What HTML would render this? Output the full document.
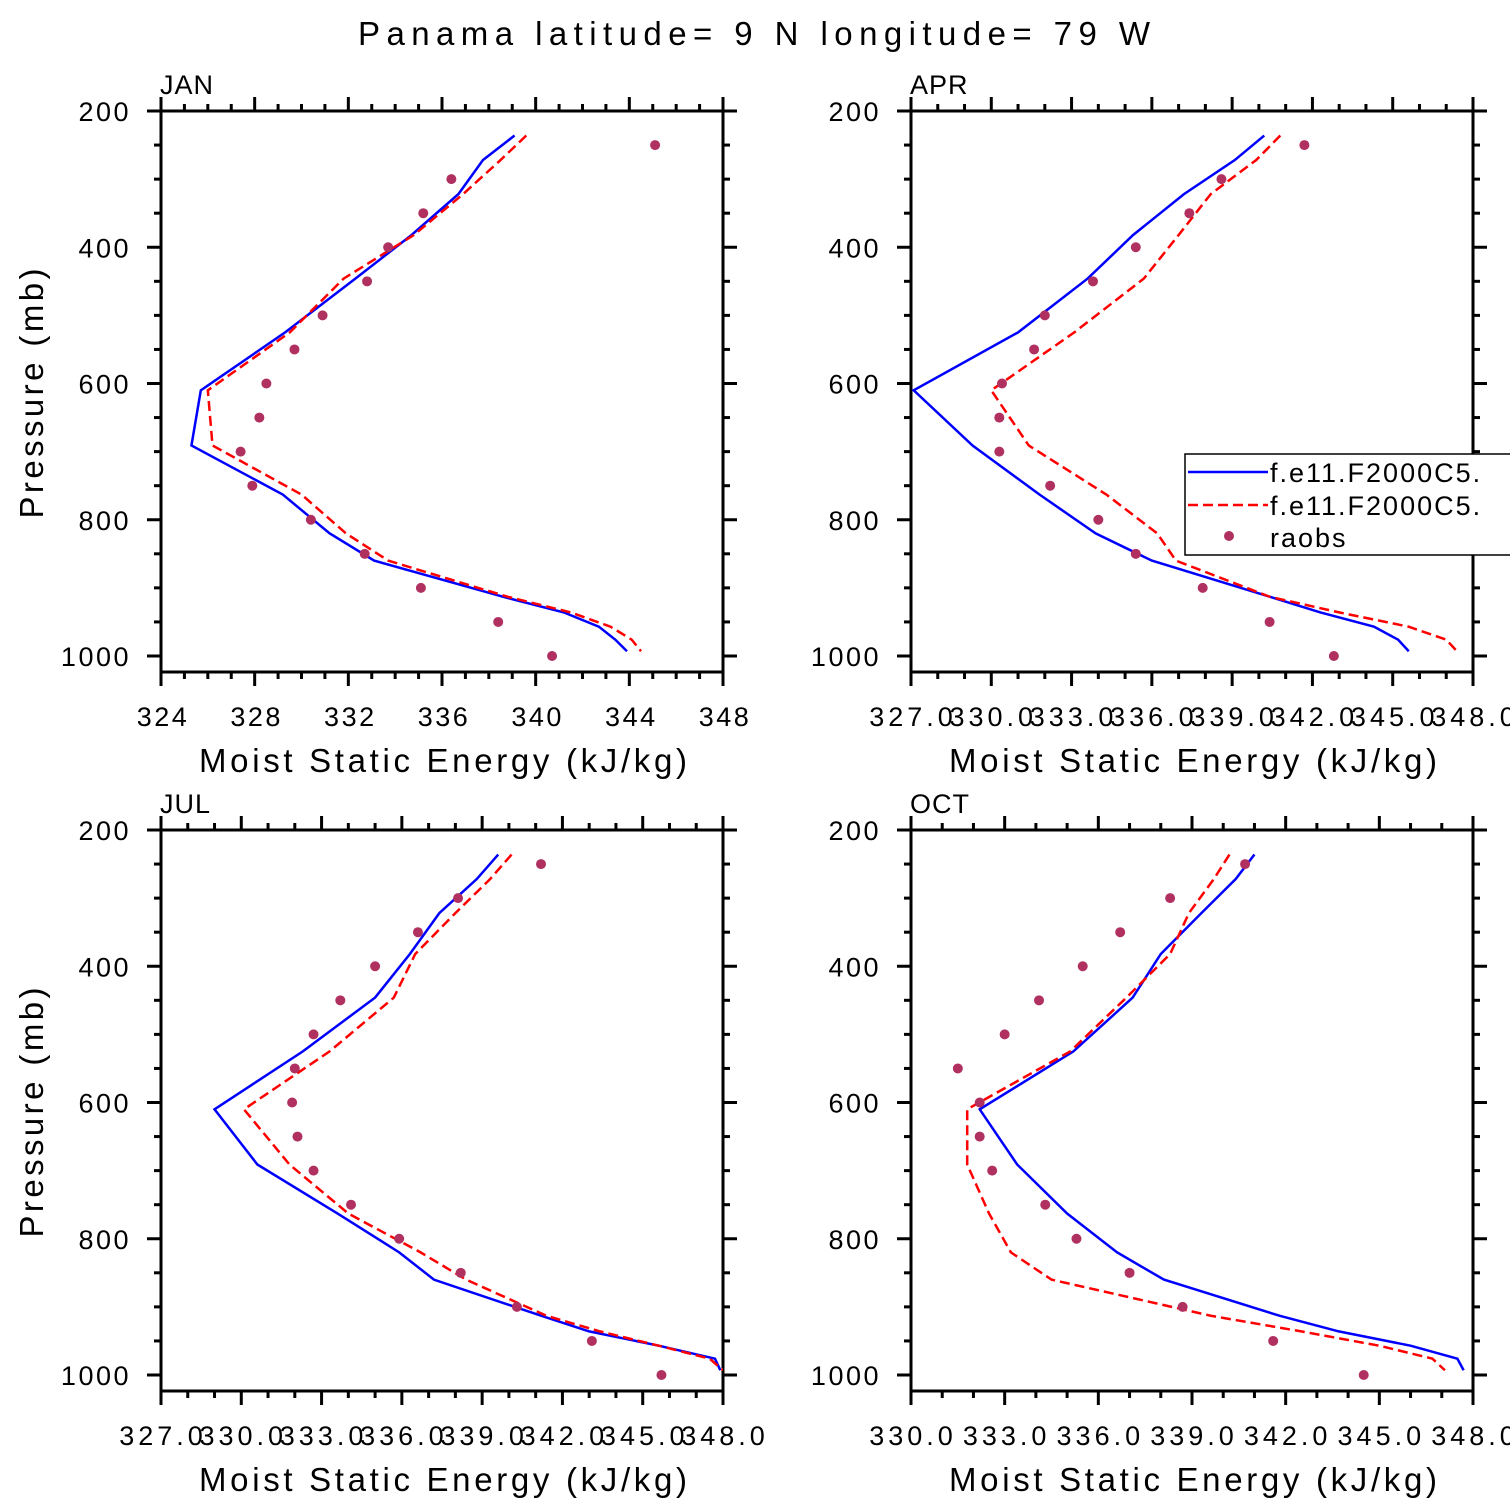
<!DOCTYPE html>
<html><head><meta charset="utf-8"><style>
body{margin:0;background:#fff}
svg{display:block}
text{font-family:"Liberation Sans",sans-serif;fill:#000}
</style></head><body>
<svg id="s" width="1510" height="1510" viewBox="0 0 1510 1510" xmlns="http://www.w3.org/2000/svg">
<text x="358" y="45" font-size="33" textLength="792" lengthAdjust="spacing">Panama  latitude= 9 N longitude= 79 W</text>
</svg>
<script>
const modelLevels=[236,272,322,382,446,525,610,691,763,820,860,913,936,957,976,993];
const obsLevels=[250,300,350,400,450,500,550,600,650,700,750,800,850,900,950,1000];
const janBlue=[339.1,337.75,336.7,334.7,332.3,329.3,325.7,325.3,329.2,331.2,333.1,338.6,341.2,342.7,343.4,343.9];
const janRed=[339.6,338.5,336.9,334.8,331.8,329.5,326.0,326.2,330.0,331.9,333.7,338.8,341.5,343.2,344.1,344.5];
const janObs=[345.1,336.4,335.2,333.7,332.8,330.9,329.7,328.5,328.2,327.4,327.9,330.4,332.7,335.1,338.4,340.7];
const aprBlue=[340.2,339.1,337.2,335.3,333.6,331.0,327.1,329.3,331.8,333.9,336.0,340.4,342.3,344.3,345.2,345.6];
const aprRed=[340.8,339.9,338.2,337.0,335.7,333.1,330.0,331.4,334.3,336.2,336.9,340.4,343.0,345.6,347.0,347.4];
const aprObs=[341.7,338.6,337.4,335.4,333.8,332.0,331.6,330.4,330.3,330.3,332.2,334.0,335.4,337.9,340.4,342.8];
const julBlue=[339.6,338.8,337.4,336.3,335.0,332.3,329.0,330.6,333.6,335.9,337.2,341.2,343.0,345.6,347.7,347.9];
const julRed=[340.1,339.3,338.0,336.5,335.7,333.3,330.1,331.8,334.0,336.7,338.4,341.4,343.4,345.6,347.5,348.0];
const julObs=[341.2,338.1,336.6,335.0,333.7,332.7,332.0,331.9,332.1,332.7,334.1,335.9,338.2,340.3,343.1,345.7];
const octBlue=[341.0,340.4,339.3,338.0,337.1,335.2,332.2,333.4,335.0,336.6,338.1,341.8,343.7,346.0,347.5,347.7];
const octRed=[340.2,339.7,338.9,338.3,336.9,335.1,331.8,331.8,332.5,333.2,334.5,339.6,342.5,345.0,346.7,347.1];
const octObs=[340.7,338.3,336.7,335.5,334.1,333.0,331.5,332.2,332.2,332.6,334.3,335.3,337.0,338.7,341.6,344.5];
const yTicks=[200,400,600,800,1000];
const janTicks=[324,328,332,336,340,344,348];
const aprTicks=[327,330,333,336,339,342,345,348];
const octTicks=[330,333,336,339,342,345,348];

const S=document.getElementById('s');const NS='http://www.w3.org/2000/svg';
function mk(t,a,p){const e=document.createElementNS(NS,t);for(const k in a)e.setAttribute(k,a[k]);(p||S).appendChild(e);return e;}
function panel(cfg){
  const {x0,y0,title,xmin,xmax,ticks,dec,blue,red,obs,name}=cfg;
  const W=562,H=561;
  const g=mk('g',{});
  
  
  const X=v=>x0+(v-xmin)/(xmax-xmin)*W;
  const Y=p=>y0+(p-200)*0.68125;
  const cid='c'+name;
  const cp=mk('clipPath',{id:cid},g);mk('rect',{x:x0,y:y0,width:W,height:H},cp);
  for(let v=xmin;v<=xmax+1e-6;v+=1){const isM=ticks.some(t=>Math.abs(t-v)<1e-6);const L=isM?14:7;
    mk('line',{x1:X(v),x2:X(v),y1:y0,y2:y0-L,stroke:'#000','stroke-width':3},g);
    mk('line',{x1:X(v),x2:X(v),y1:y0+H,y2:y0+H+L,stroke:'#000','stroke-width':3},g);}
  for(let p=200;p<=1020;p+=50){const isM=p%200===0;const L=isM?14:7;
    mk('line',{x1:x0,x2:x0-L,y1:Y(p),y2:Y(p),stroke:'#000','stroke-width':3},g);
    mk('line',{x1:x0+W,x2:x0+W+L,y1:Y(p),y2:Y(p),stroke:'#000','stroke-width':3},g);}
  const fr=mk('rect',{x:x0,y:y0,width:W,height:H,fill:'none',stroke:'#000','stroke-width':3},g);
  
  
  yTicks.forEach(p=>{const t=mk('text',{x:x0-30,y:Y(p)+10,'text-anchor':'end','font-size':27,'letter-spacing':2.5},g);t.textContent=p;
    
    });
  ticks.forEach(v=>{const t=mk('text',{x:X(v)+2,y:y0+H+54,'text-anchor':'middle','font-size':27,'letter-spacing':dec?4:2.5},g);t.textContent=v.toFixed(dec);
    
    });
  const tt=mk('text',{x:x0-1,y:y0-17,'font-size':27,'letter-spacing':1},g);tt.textContent=title;
  
  
  const xt=mk('text',{x:x0+38,y:y0+H+100,'font-size':33,textLength:488,lengthAdjust:'spacing'},g);xt.textContent='Moist Static Energy (kJ/kg)';
  
  
  if(x0<500){const yt=mk('text',{x:-125,y:0,'font-size':33,textLength:250,lengthAdjust:'spacing',transform:`translate(43,${y0+H/2+2}) rotate(-90)`},g);yt.textContent='Pressure (mb)';
    
    }
  const gc=mk('g',{'clip-path':`url(#${cid})`},g);
  const bl=mk('polyline',{points:blue.map((v,i)=>X(v)+','+Y(modelLevels[i])).join(' '),fill:'none',stroke:'#0000ff','stroke-width':2.5},gc);
  
  
  const rl=mk('polyline',{points:red.map((v,i)=>X(v)+','+Y(modelLevels[i])).join(' '),fill:'none',stroke:'#ff0000','stroke-width':2.5,'stroke-dasharray':'10,5'},gc);
  
  
  obs.forEach((v,i)=>{const c=mk('circle',{cx:X(v),cy:Y(obsLevels[i]),r:5,fill:'#b03060'},gc);
    
    });
}
panel({x0:161,y0:111,title:'JAN',xmin:324,xmax:348,ticks:janTicks,dec:0,blue:janBlue,red:janRed,obs:janObs,name:'jan'});
panel({x0:911,y0:111,title:'APR',xmin:327,xmax:348,ticks:aprTicks,dec:1,blue:aprBlue,red:aprRed,obs:aprObs,name:'apr'});
panel({x0:161,y0:830,title:'JUL',xmin:327,xmax:348,ticks:aprTicks,dec:1,blue:julBlue,red:julRed,obs:julObs,name:'jul'});
panel({x0:911,y0:830,title:'OCT',xmin:330,xmax:348,ticks:octTicks,dec:1,blue:octBlue,red:octRed,obs:octObs,name:'oct'});
const lg=mk('g',{});


mk('rect',{x:1185,y:454,width:330,height:101,fill:'#fff',stroke:'#000','stroke-width':1.5},lg);
mk('line',{x1:1188,x2:1268,y1:472,y2:472,stroke:'#0000ff','stroke-width':2.5},lg);
mk('line',{x1:1188,x2:1268,y1:505,y2:505,stroke:'#ff0000','stroke-width':2.5,'stroke-dasharray':'10,5'},lg);
mk('circle',{cx:1229,cy:536,r:5,fill:'#b03060'},lg);
[['f.e11.F2000C5.',482],['f.e11.F2000C5.',515],['raobs',547]].forEach(([s,y])=>{const t=mk('text',{x:1270,y:y,'font-size':27,'letter-spacing':2},lg);t.textContent=s;
  
  });
</script>
</body></html>
